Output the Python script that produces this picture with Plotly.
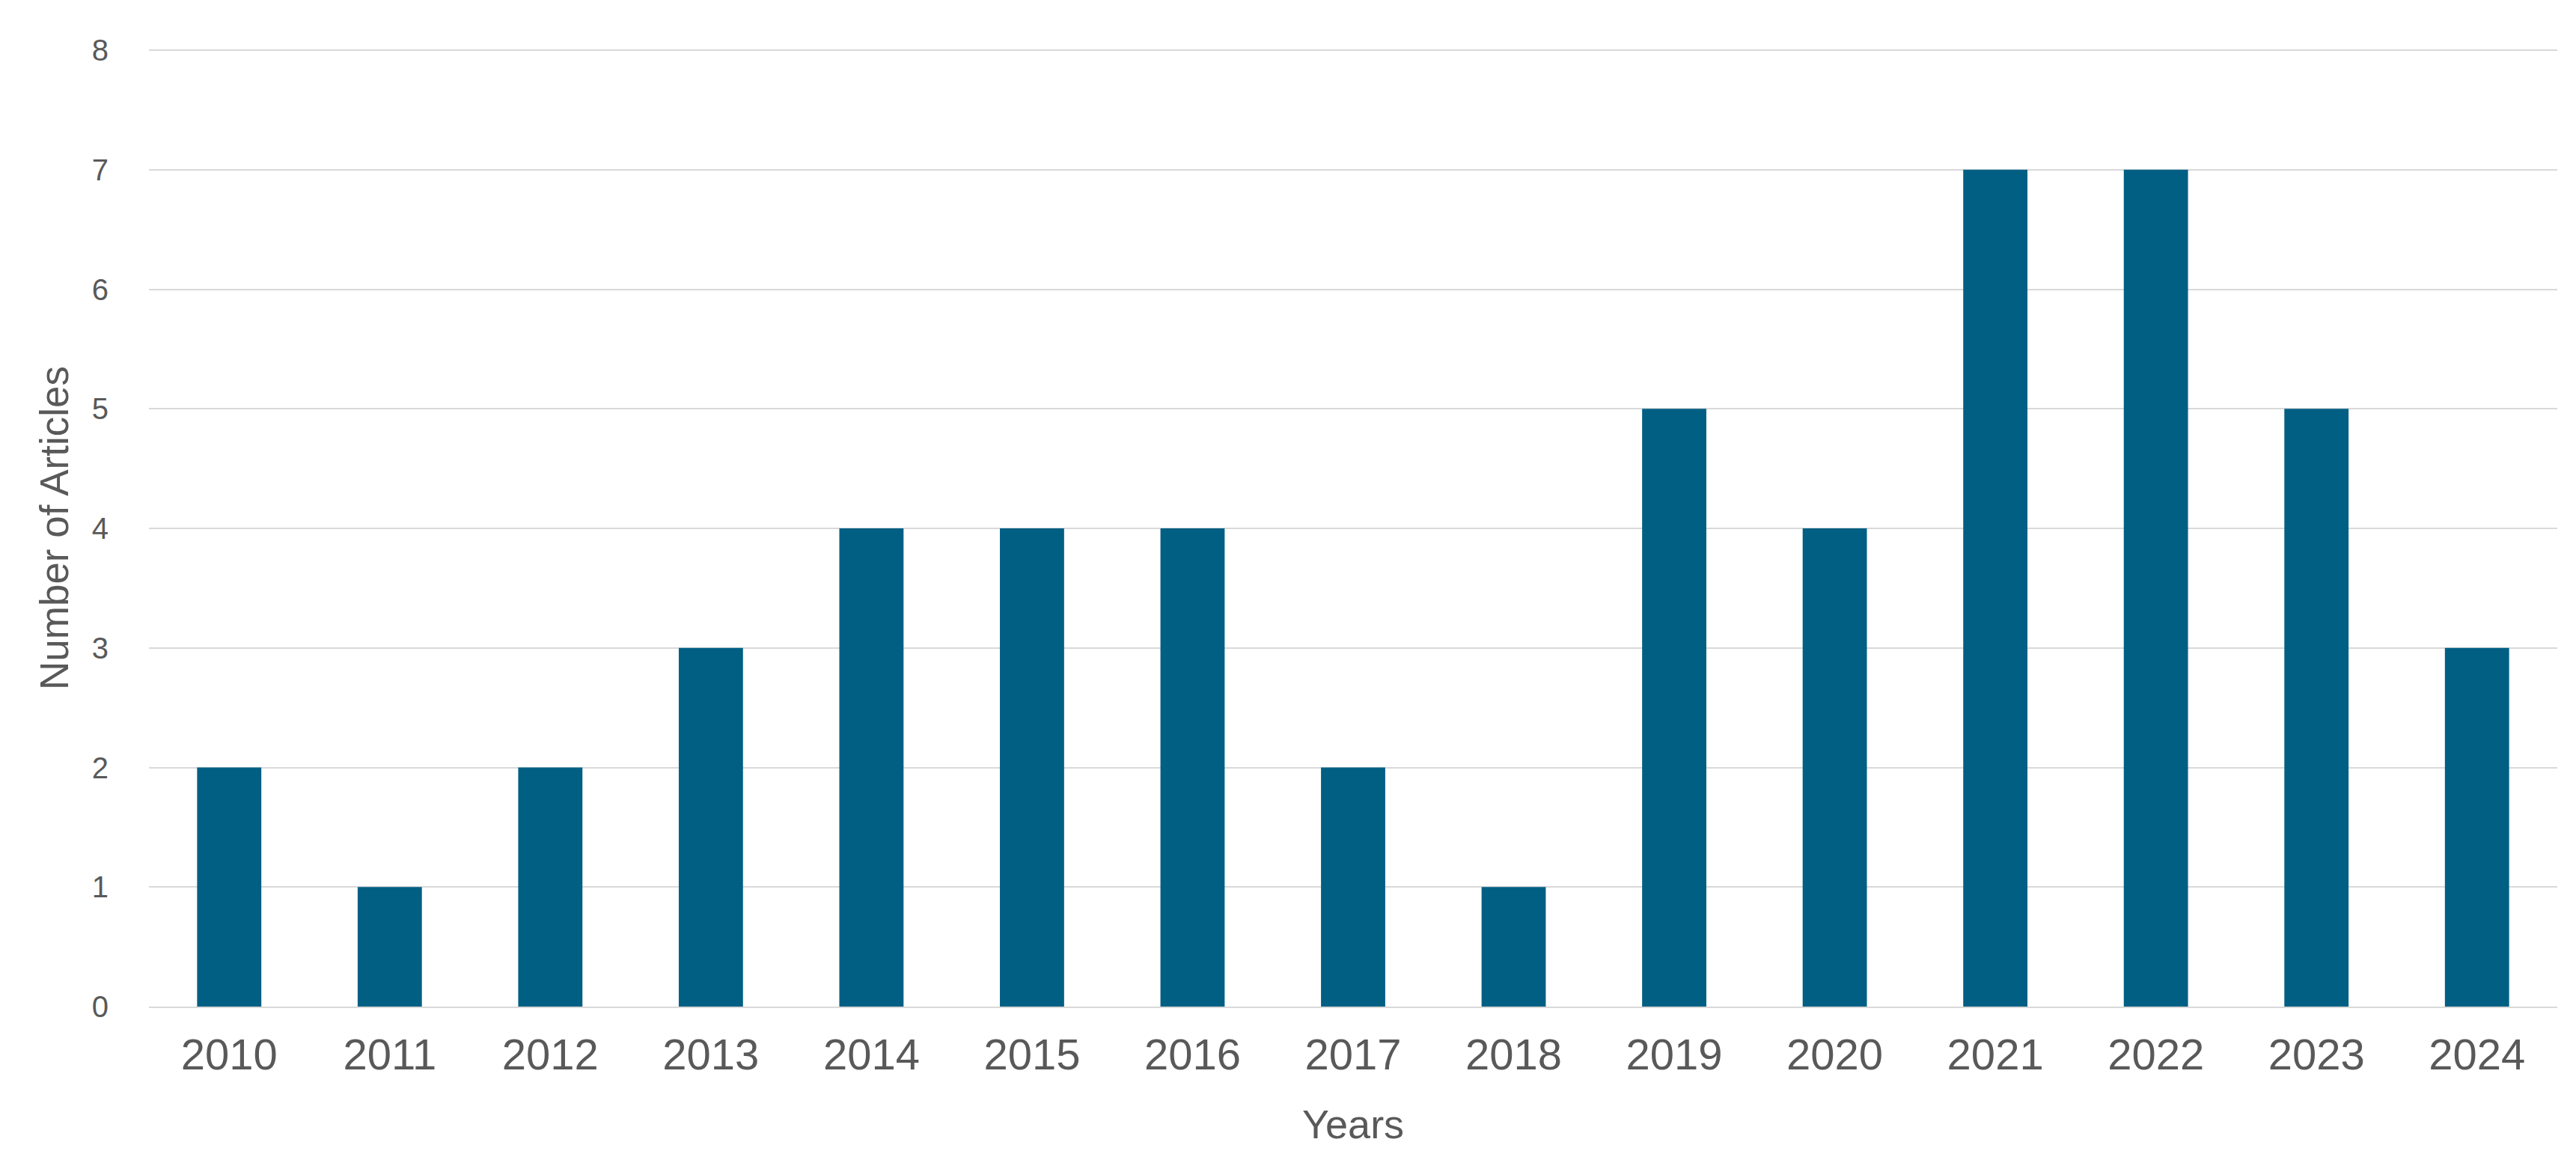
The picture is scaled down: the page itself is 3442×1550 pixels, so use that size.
import plotly.graph_objects as go

years = ["2010", "2011", "2012", "2013", "2014", "2015", "2016", "2017",
         "2018", "2019", "2020", "2021", "2022", "2023", "2024"]
articles = [2, 1, 2, 3, 4, 4, 4, 2, 1, 5, 4, 7, 7, 5, 3]
y_ticks = [0, 1, 2, 3, 4, 5, 6, 7, 8]

BAR = "#005F83"
TXT = "#595959"
GRID = "#D9D9D9"
FONT = "Liberation Sans, Arial, sans-serif"

fig = go.Figure(go.Bar(x=years, y=articles, marker=dict(color=BAR, line=dict(width=0)),
                       hoverinfo="x+y"))

W, H = 3442, 1550
L, R, T, B = 191, 33, 54, 213
pw, ph = W - L - R, H - T - B
unit_px = 159.75  # pixel height of one article on the y axis
y_top = ph / unit_px  # slightly above 8 so the top gridline is drawn

def px_x(x):
    return (x - L) / pw

def px_y(y):
    return (H - B - y) / ph

fig.update_layout(
    width=W, height=H,
    margin=dict(l=L, r=R, t=T, b=B, pad=0),
    paper_bgcolor="white", plot_bgcolor="white",
    bargap=0.6,
    showlegend=False,
    font=dict(family=FONT, color=TXT),
    xaxis=dict(type="category", tickfont=dict(size=58, color=TXT, family=FONT),
               showgrid=False, showline=True, linecolor=GRID, linewidth=2,
               ticks="", ticklabelstandoff=12),
    yaxis=dict(range=[0, y_top], tickvals=y_ticks, tickfont=dict(size=40, color=TXT, family=FONT),
               showgrid=True, gridcolor=GRID, gridwidth=2, zeroline=False,
               showline=False, ticks="", ticklabelstandoff=53),
    annotations=[
        dict(text="Years", x=0.5, xref="paper", y=px_y(1494), yref="paper", showarrow=False,
             font=dict(size=54, color=TXT, family=FONT), xanchor="center", yanchor="middle"),
        dict(text="Number of Articles", x=px_x(64), xref="paper", y=px_y(698), yref="paper",
             showarrow=False, textangle=-90, font=dict(size=53, color=TXT, family=FONT),
             xanchor="center", yanchor="middle"),
    ],
)

fig.write_html("out.html")
